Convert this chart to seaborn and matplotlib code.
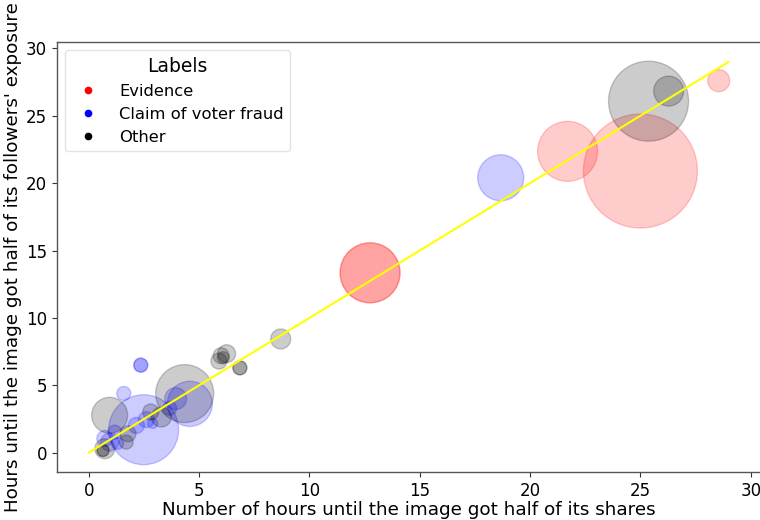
import matplotlib
matplotlib.use("Agg")
import matplotlib.pyplot as plt
import seaborn as sns
import pandas as pd
from matplotlib.lines import Line2D

# ---- data ----
hours_shares = [12.75, 12.75, 21.7, 25.0, 28.55,
                18.67, 2.36, 2.36, 1.59, 2.49, 4.58, 3.94, 2.61, 2.9, 2.16, 1.18,
                0.95, 0.73, 3.67, 1.31,
                25.37, 26.28, 8.7, 5.9, 6.0, 6.25, 6.1, 6.85, 6.85, 4.35, 0.95,
                3.29, 2.81, 1.78, 1.7, 0.73, 0.65, 0.65]
hours_exposure = [13.35, 13.35, 22.36, 20.9, 27.6,
                  20.4, 6.5, 6.5, 4.4, 1.71, 3.63, 4.02, 2.46, 2.18, 2.03, 1.53,
                  0.79, 1.06, 3.3, 0.69,
                  26.08, 26.83, 8.44, 6.8, 7.2, 7.35, 7.05, 6.3, 6.3, 4.39, 2.78,
                  2.65, 3.03, 1.41, 0.79, 0.3, 0.17, 0.17]
labels = (["Evidence"] * 5
          + ["Claim of voter fraud"] * 15
          + ["Other"] * 18)
shares = [900, 900, 900, 3250, 121,
          529, 49, 49, 49, 1225, 510, 121, 64, 25, 64, 49,
          81, 64, 49, 36,
          1600, 225, 100, 64, 64, 81, 36, 49, 49, 841, 324,
          100, 64, 64, 49, 100, 36, 36]
fit_x = [0, 29]
fit_y = [0, 29]

label_order = ["Evidence", "Claim of voter fraud", "Other"]
label_colors = {"Evidence": "red", "Claim of voter fraud": "blue", "Other": "black"}

df = pd.DataFrame({"x": hours_shares, "y": hours_exposure,
                   "label": labels, "shares": shares})

sns.set_style("white", rc={"text.color": "black", "axes.labelcolor": "black",
                           "xtick.color": "black", "ytick.color": "black"})
plt.rcParams["font.family"] = ["DejaVu Sans"]

fig = plt.figure(figsize=(7.6, 5.2), dpi=100)
ax = fig.add_axes([0.0746, 0.0917, 0.9263, 0.827])

max_share = max(shares)
px_to_pt2 = (2 * 72 / 100) ** 2
sns.scatterplot(data=df, x="x", y="y", hue="label", hue_order=label_order,
                palette=label_colors, size="shares",
                sizes=(0, max_share * px_to_pt2), size_norm=(0, max_share),
                alpha=0.2, edgecolor="face", linewidth=1.0,
                legend=False, ax=ax)
sns.lineplot(x=fit_x, y=fit_y, color="yellow", linewidth=1.5, ax=ax)

ax.set_xlim(-1.45, 30.45)
ax.set_ylim(-1.45, 30.45)
ax.set_xticks([0, 5, 10, 15, 20, 25, 30])
ax.set_yticks([0, 5, 10, 15, 20, 25, 30])
ax.tick_params(axis="both", labelsize=12, length=3.5, width=0.8,
               bottom=True, left=True, color="#333333", labelcolor="black")
for s in ax.spines.values():
    s.set_color("#555555")
    s.set_linewidth(1.0)

ax.set_xlabel("Number of hours until the image got half of its shares",
              fontsize=13.2, color="black", labelpad=1)
ax.set_ylabel("Hours until the image got half of its followers' exposure",
              fontsize=13.2, color="black", labelpad=3)

handles = [Line2D([0], [0], marker="o", linestyle="", color=label_colors[l],
                  markersize=4.5) for l in label_order]
leg = ax.legend(handles, label_order, title="Labels", loc="upper left",
                fontsize=11.8, title_fontsize=13.5, frameon=True,
                handletextpad=0.9, labelspacing=0.48)
leg.get_frame().set_edgecolor("#dddddd")

fig.savefig("out.png", dpi=100)
